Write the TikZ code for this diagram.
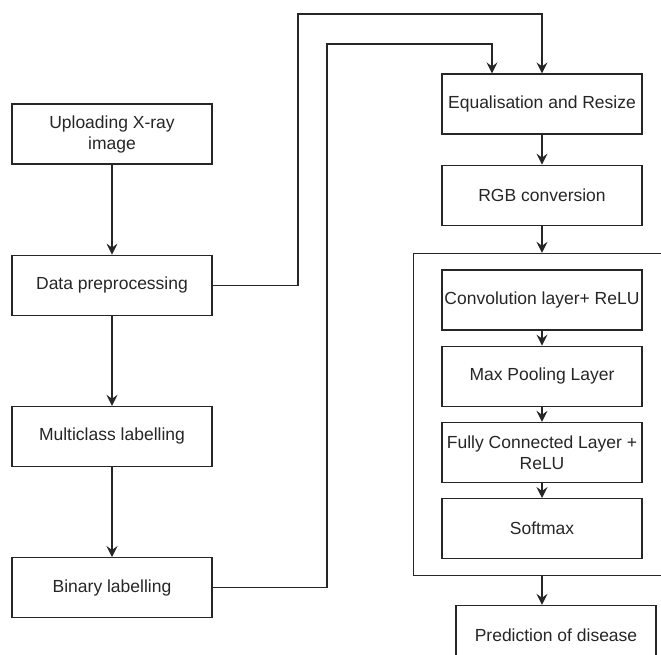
\documentclass[tikz,border=0pt]{standalone}
\usepackage{fontspec}
\setmainfont{Liberation Sans}
\usetikzlibrary{arrows.meta,positioning,fit}

\begin{document}
\begin{tikzpicture}[x=1pt,y=-1pt,black!85,line width=1.2pt,
box/.style={draw,rectangle,minimum width=200pt,minimum height=60pt,inner sep=2pt,
  align=center,text=black!85,font=\fontsize{17.5}{21}\selectfont},
arr/.style={-{Stealth[length=11pt,width=11pt,inset=4pt]}},
node distance=90pt]
\clip (0,0) rectangle (661,655);
% left column
\node[box] (upload) at (112,134) {Uploading X-ray\\image};
\node[box,below=of upload] (prep) {Data preprocessing};
\node[box,below=of prep] (multi) {Multiclass labelling};
\node[box,below=of multi] (binary) {Binary labelling};
% right column
\node[box] (equal) at (542,104) {Equalisation and Resize};
\node[box,below=30pt of equal] (rgb) {RGB conversion};
\node[box] (conv) at (542,300) {Convolution layer+ ReLU};
\node[box,below=15pt of conv] (pool) {Max Pooling Layer};
\node[box,below=15pt of pool] (fc) {Fully Connected Layer +\\ReLU};
\node[box,below=15pt of fc] (soft) {Softmax};
\node[draw,fit=(conv)(soft),inner xsep=28pt,inner ysep=16pt] (cnn) {};
\node[box,below=29pt of cnn,xshift=14pt] (pred) {Prediction of disease};
\coordinate (bend1) at (298,14);
\coordinate (bend2) at (327,44);
\draw[arr] (upload) -- (prep);
\draw[arr] (prep) -- (multi);
\draw[arr] (multi) -- (binary);
\draw[arr] (prep.east) -| (bend1) -| (equal.north);
\draw[arr] (binary.east) -| (bend2) -| ([xshift=-50pt]equal.north);
\draw[arr] (equal) -- (rgb);
\draw[arr] (rgb) -- (cnn);
\draw[arr] (conv) -- (pool);
\draw[arr] (pool) -- (fc);
\draw[arr] (fc) -- (soft);
\draw[arr] (cnn.south) -- (cnn.south |- pred.north);
\end{tikzpicture}
\end{document}
